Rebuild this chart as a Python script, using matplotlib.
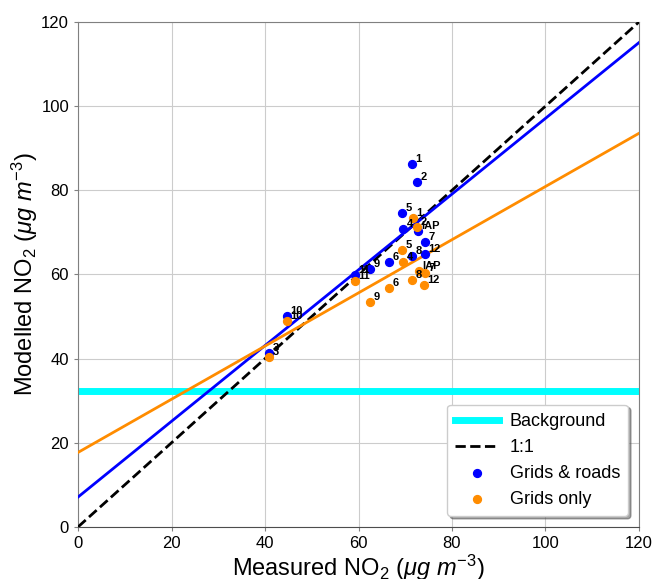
import matplotlib
matplotlib.use("Agg")
import matplotlib.pyplot as plt
import numpy as np

plt.rcParams['font.family'] = ['Liberation Sans', 'DejaVu Sans']
plt.rcParams['mathtext.fontset'] = 'custom'
plt.rcParams['mathtext.rm'] = 'Liberation Sans'
plt.rcParams['mathtext.it'] = 'Liberation Sans:italic'

# Grids & roads
roads_labels = ['1', '2', '5', '4', 'IAP', '7', '12', '8', '6', '9', '11', '10', '3']
roads_meas = [71.4, 72.5, 69.3, 69.5, 72.7, 74.2, 74.2, 71.4, 66.5, 62.5, 59.3, 44.7, 40.9]
roads_mod = [86.2, 81.9, 74.6, 70.8, 70.3, 67.7, 64.8, 64.4, 62.9, 61.3, 59.9, 50.1, 41.3]

# Grids only
grids_labels = ['1', '2', '5', '4', 'IAP', '7', '8', '12', '6', '9', '11', '10', '3']
grids_meas = [71.6, 72.5, 69.3, 69.5, 72.9, 74.2, 71.4, 74.0, 66.5, 62.5, 59.3, 44.7, 40.9]
grids_mod = [73.4, 71.3, 65.8, 62.9, 60.8, 60.3, 58.7, 57.5, 56.8, 53.4, 58.4, 48.9, 40.4]

# Regression fits (slope, intercept)
roads_fit = (0.90, 7.1)
grids_fit = (0.632, 17.7)
background = 32.3

fig = plt.figure(figsize=(6.56, 5.79), dpi=100)
ax = fig.add_axes([0.119, 0.090, 0.855, 0.872])

xs = np.array([0, 120])
ax.axhline(background, color='cyan', lw=5, label='Background', zorder=2)
ax.plot(xs, xs, 'k--', lw=2, label='1:1', zorder=3)
ax.plot(xs, roads_fit[0] * xs + roads_fit[1], color='blue', lw=2, zorder=3)
ax.plot(xs, grids_fit[0] * xs + grids_fit[1], color='darkorange', lw=2, zorder=3)

ax.scatter(roads_meas, roads_mod, s=32, color='blue', label='Grids & roads', zorder=4)
ax.scatter(grids_meas, grids_mod, s=32, color='darkorange', label='Grids only', zorder=4)

for lab, x, y in zip(roads_labels, roads_meas, roads_mod):
    ax.annotate(lab, (x, y), xytext=(2.5, 0), textcoords='offset points',
                fontsize=8, fontweight='bold', ha='left', va='bottom', zorder=5)
for lab, x, y in zip(grids_labels, grids_meas, grids_mod):
    ax.annotate(lab, (x, y), xytext=(2.5, 0), textcoords='offset points',
                fontsize=8, fontweight='bold', ha='left', va='bottom', zorder=5)

ax.set_xlim(0, 120)
ax.set_ylim(0, 120)
ax.set_xticks(np.arange(0, 121, 20))
ax.set_yticks(np.arange(0, 121, 20))
ax.grid(True, color='0.8', lw=0.8, zorder=0)
ax.set_axisbelow(True)
ax.tick_params(labelsize=12, length=3, color='0.5')
for s in ax.spines.values():
    s.set_color('0.5')
ax.spines['bottom'].set_color('0.3')

ax.set_xlabel(r'Measured NO$_2$ ($\mu g\ m^{-3}$)', fontsize=17, labelpad=1)
ax.set_ylabel(r'Modelled NO$_2$ ($\mu g\ m^{-3}$)', fontsize=17, labelpad=1)

ax.legend(loc='lower right', fontsize=13, shadow=True, fancybox=True,
          framealpha=1, borderpad=0.45, handlelength=2.4, handletextpad=0.6,
          labelspacing=0.5, borderaxespad=0.6)

fig.savefig('out.png', dpi=100)
